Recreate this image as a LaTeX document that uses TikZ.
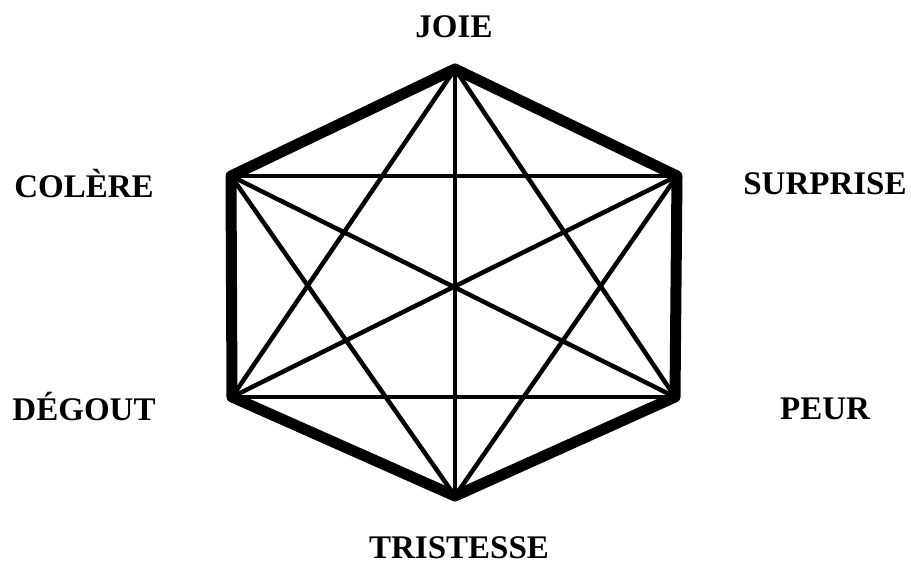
\documentclass[tikz,border=0pt]{standalone}
\usepackage{fontspec}
\setmainfont{Liberation Serif}
\begin{document}
\begin{tikzpicture}[x=1pt,y=-1pt,
  lbl/.style={font=\fontsize{33}{36}\selectfont\bfseries, inner sep=0pt},
  outer/.style={line width=11pt, line join=round, line cap=round},
  inner/.style={line width=4.5pt, line cap=round}]
\useasboundingbox (0,0) rectangle (911,567);
\coordinate (J) at (455,69);
\coordinate (S) at (677,176);
\coordinate (P) at (675,397);
\coordinate (T) at (455,496);
\coordinate (D) at (232,397);
\coordinate (C) at (231,176);
% diagonals
\draw[inner] (J) -- (D);
\draw[inner] (J) -- (P);
\draw[inner] (J) -- (T);
\draw[inner] (C) -- (S);
\draw[inner] (C) -- (P);
\draw[inner] (C) -- (T);
\draw[inner] (S) -- (D);
\draw[inner] (S) -- (T);
\draw[inner] (D) -- (P);
% outline
\draw[outer] (J) -- (S) -- (P) -- (T) -- (D) -- (C) -- cycle;
% labels
\node[lbl] (lj) at (454,27) {JOIE};
\node[lbl] (lc) at (84,184) {COLÈRE};
\node[lbl] (ls) at (825,184) {SURPRISE};
\node[lbl] (ld) at (84,407) {DÉGOUT};
\node[lbl] (lp) at (825,409) {PEUR};
\node[lbl] (lt) at (459,548) {TRISTESSE};
\end{tikzpicture}
\end{document}
